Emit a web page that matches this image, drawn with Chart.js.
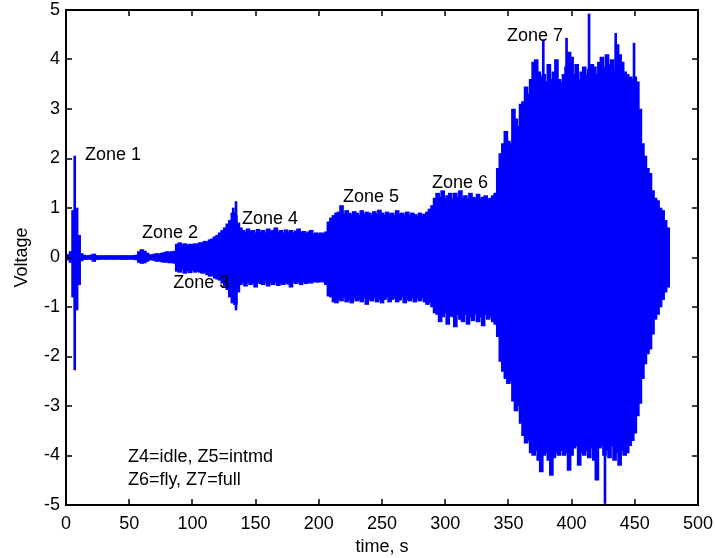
<!DOCTYPE html>
<html>
<head>
<meta charset="utf-8">
<title>Voltage vs time</title>
<script src="https://cdn.jsdelivr.net/npm/chart.js@4.4.1/dist/chart.umd.min.js"></script>
<style>
  html, body { margin: 0; padding: 0; background: #fff; }
  canvas { display: block; }
</style>
</head>
<body>
<canvas id="chart" width="715" height="558"></canvas>
<script>
// sample times (s), one envelope sample every 2 s
const timeS = [
  0, 2, 4, 6, 8, 10, 12, 14, 16, 18,
  20, 22, 24, 26, 28, 30, 32, 34, 36, 38,
  40, 42, 44, 46, 48, 50, 52, 54, 56, 58,
  60, 62, 64, 66, 68, 70, 72, 74, 76, 78,
  80, 82, 84, 86, 88, 90, 92, 94, 96, 98,
  100, 102, 104, 106, 108, 110, 112, 114, 116, 118,
  120, 122, 124, 126, 128, 130, 132, 134, 136, 138,
  140, 142, 144, 146, 148, 150, 152, 154, 156, 158,
  160, 162, 164, 166, 168, 170, 172, 174, 176, 178,
  180, 182, 184, 186, 188, 190, 192, 194, 196, 198,
  200, 202, 204, 206, 208, 210, 212, 214, 216, 218,
  220, 222, 224, 226, 228, 230, 232, 234, 236, 238,
  240, 242, 244, 246, 248, 250, 252, 254, 256, 258,
  260, 262, 264, 266, 268, 270, 272, 274, 276, 278,
  280, 282, 284, 286, 288, 290, 292, 294, 296, 298,
  300, 302, 304, 306, 308, 310, 312, 314, 316, 318,
  320, 322, 324, 326, 328, 330, 332, 334, 336, 338,
  340, 342, 344, 346, 348, 350, 352, 354, 356, 358,
  360, 362, 364, 366, 368, 370, 372, 374, 376, 378,
  380, 382, 384, 386, 388, 390, 392, 394, 396, 398,
  400, 402, 404, 406, 408, 410, 412, 414, 416, 418,
  420, 422, 424, 426, 428, 430, 432, 434, 436, 438,
  440, 442, 444, 446, 448, 450, 452, 454, 456, 458,
  460, 462, 464, 466, 468, 470, 472, 474, 476
];

// upper edge of the signal (V)
const upperV = [
  0.05, 0.06, 0.12, 0.95, 1.0, 0.45, 0.08, 0.05, 0.04, 0.04,
  0.05, 0.07, 0.04, 0.035, 0.04, 0.035, 0.04, 0.035, 0.04, 0.035,
  0.04, 0.035, 0.04, 0.035, 0.04, 0.035, 0.04, 0.04, 0.05, 0.12,
  0.16, 0.13, 0.09, 0.06, 0.05, 0.07, 0.08, 0.07, 0.09, 0.1,
  0.12, 0.11, 0.12, 0.13, 0.27, 0.3, 0.26, 0.28, 0.25, 0.27,
  0.26, 0.28, 0.27, 0.3, 0.3, 0.33, 0.32, 0.36, 0.38, 0.42,
  0.45, 0.5, 0.55, 0.6, 0.68, 0.75, 0.9, 0.85, 0.7, 0.6,
  0.55, 0.52, 0.58, 0.53, 0.55, 0.5, 0.57, 0.52, 0.55, 0.5,
  0.58, 0.53, 0.55, 0.6, 0.52, 0.55, 0.5, 0.56, 0.52, 0.55,
  0.5, 0.54, 0.58, 0.5, 0.53, 0.49, 0.52, 0.55, 0.48, 0.5,
  0.47, 0.5, 0.48, 0.52, 0.72, 0.8, 0.85, 0.9, 0.92, 1.05,
  0.88, 0.95, 0.9, 0.87, 0.93, 0.9, 0.86, 0.95, 0.88, 0.92,
  0.9, 0.85, 0.93, 0.88, 0.96, 0.9, 0.86, 0.92, 0.88, 0.9,
  0.85, 0.95, 0.88, 0.9, 0.86, 0.92, 0.85, 0.9, 0.87, 0.84,
  0.9, 0.86, 0.88, 0.92, 0.98, 1.05, 1.2, 1.3, 1.22, 1.35,
  1.2, 1.25, 1.3, 1.18, 1.3, 1.22, 1.35, 1.2, 1.25, 1.18,
  1.3, 1.22, 1.2, 1.28, 1.2, 1.22, 1.25, 1.18, 1.2, 1.25,
  1.3, 1.8, 2.1, 2.3, 2.55, 2.35, 2.3, 3.0, 2.8, 2.65,
  3.1, 3.15, 3.45, 3.3, 3.6, 3.95, 4.0, 3.75, 3.65, 3.7,
  3.55, 3.9, 3.6, 3.75, 4.0, 3.6, 3.55, 3.7, 3.85, 4.15,
  4.05, 3.7, 3.9, 3.6, 3.75, 3.85, 3.7, 3.8, 3.9, 3.85,
  3.7, 3.95, 4.05, 3.85, 4.1, 3.9, 4.0, 3.8, 4.3, 4.1,
  3.95, 3.75, 3.7, 3.65, 3.6, 3.65, 3.55, 3.0, 2.3, 2.05,
  1.8, 1.7, 1.35, 1.2, 1.15, 1.0, 0.95, 0.75, 0.6
];

// lower edge of the signal (V)
const lowerV = [
  -0.05, -0.05, -0.1, -0.8, -1.06, -0.55, -0.07, -0.04, -0.04, -0.035,
  -0.04, -0.08, -0.04, -0.04, -0.035, -0.035, -0.04, -0.035, -0.035, -0.04,
  -0.035, -0.035, -0.04, -0.035, -0.04, -0.035, -0.04, -0.035, -0.05, -0.1,
  -0.12, -0.11, -0.08, -0.05, -0.05, -0.06, -0.08, -0.07, -0.09, -0.1,
  -0.09, -0.11, -0.1, -0.12, -0.28, -0.3, -0.25, -0.32, -0.27, -0.31,
  -0.26, -0.3, -0.28, -0.3, -0.32, -0.3, -0.35, -0.38, -0.36, -0.42,
  -0.44, -0.46, -0.52, -0.58, -0.65, -0.8, -0.92, -0.95, -0.7, -0.55,
  -0.5, -0.58, -0.5, -0.55, -0.52, -0.6, -0.5, -0.53, -0.55, -0.5,
  -0.58, -0.52, -0.55, -0.5, -0.57, -0.52, -0.55, -0.5, -0.54, -0.6,
  -0.5, -0.53, -0.5, -0.55, -0.5, -0.53, -0.5, -0.52, -0.48, -0.5,
  -0.5, -0.48, -0.5, -0.55, -0.78, -0.8, -0.9, -0.92, -0.85, -0.88,
  -0.8, -0.9, -0.85, -0.92, -0.82, -0.88, -0.85, -0.9, -0.82, -0.95,
  -0.85, -0.88, -0.82, -0.9, -0.85, -0.92, -0.85, -0.8, -0.9, -0.85,
  -0.82, -0.9, -0.86, -0.8, -0.92, -0.85, -0.88, -0.82, -0.9, -0.85,
  -0.88, -0.82, -0.9, -0.95, -0.9, -1.0, -1.12, -1.15, -1.3, -1.2,
  -1.12, -1.35, -1.18, -1.2, -1.4, -1.15, -1.25, -1.3, -1.15, -1.35,
  -1.2, -1.28, -1.15, -1.3, -1.2, -1.38, -1.15, -1.25, -1.2, -1.3,
  -1.35, -1.6, -2.1, -2.3, -2.45, -2.55, -2.5, -2.9, -3.1, -3.0,
  -3.35, -3.6, -3.75, -3.7, -3.95, -4.0, -3.9, -4.1, -4.33, -4.0,
  -3.95, -4.1, -4.4, -4.05, -3.95, -4.0, -3.9, -4.0, -3.95, -4.3,
  -4.0, -3.85, -3.8, -4.2, -3.95, -4.0, -3.9, -4.05, -3.85, -4.1,
  -4.5, -3.85, -3.8, -4.0, -3.9, -4.05, -3.8, -4.1, -3.95, -4.2,
  -3.9, -4.0, -3.95, -3.8, -3.7, -3.55, -3.2, -2.95, -2.45, -2.15,
  -1.95, -1.85, -1.55, -1.25, -1.15, -1.0, -0.85, -0.7, -0.6
];

// isolated narrow spikes
const spikeT = [6.9, 132.3, 134.5, 377.6, 396.0, 413.8, 426.4, 434.9, 449.4];
const spikeHi = [2.05, 1.0, 1.13, 4.4, 4.43, 4.92, 0, 4.53, 4.33];
const spikeLo = [-2.27, -0.9, -1.06, 0, 0, 0, -4.97, 0, 0];

// tick values
const xTicks = [0, 50, 100, 150, 200, 250, 300, 350, 400, 450, 500];
const yTicks = [-5, -4, -3, -2, -1, 0, 1, 2, 3, 4, 5];

// text annotations in data coordinates
const noteText = ['Zone 1', 'Zone 2', 'Zone 3', 'Zone 4', 'Zone 5', 'Zone 6', 'Zone 7',
  'Z4=idle, Z5=intmd', 'Z6=fly, Z7=full'];
const noteT = [15, 60.1, 84.9, 139.2, 219.1, 289.6, 348.9, 49, 49];
const noteV = [2.07, 0.49, -0.52, 0.78, 1.22, 1.5, 4.48, -4.03, -4.5];

const fontFamily = '"Liberation Sans", Arial, Helvetica, sans-serif';
Chart.defaults.font.family = fontFamily;
Chart.defaults.font.size = 18;
Chart.defaults.color = '#000';

const signalData = timeS.map((t, i) => ({ x: t, y: [lowerV[i], upperV[i]] }));
const spikeData = spikeT.map((t, i) => ({ x: t, y: [spikeLo[i], spikeHi[i]] }));

// no extra room for label overflow, layout padding decides the plot box
function noOverflow(s) {
  s.paddingTop = 0;
  s.paddingBottom = 0;
  s.paddingLeft = 0;
  s.paddingRight = 0;
}

// matlab style box with inward ticks + text labels
const frame = {
  id: 'frame',
  afterDatasetsDraw(chart) {
    const { ctx, chartArea: a, scales: { x, y } } = chart;
    ctx.save();
    ctx.strokeStyle = '#000';
    ctx.lineWidth = 1.5;
    ctx.beginPath();
    xTicks.forEach(v => {
      const px = Math.round(x.getPixelForValue(v));
      ctx.moveTo(px, a.bottom); ctx.lineTo(px, a.bottom - 6);
      ctx.moveTo(px, a.top); ctx.lineTo(px, a.top + 6);
    });
    yTicks.forEach(v => {
      const py = Math.round(y.getPixelForValue(v));
      ctx.moveTo(a.left, py); ctx.lineTo(a.left + 6, py);
      ctx.moveTo(a.right, py); ctx.lineTo(a.right - 6, py);
    });
    ctx.stroke();
    ctx.lineWidth = 2;
    ctx.strokeRect(a.left, a.top, a.right - a.left, a.bottom - a.top);

    ctx.fillStyle = '#000';
    ctx.font = '18px ' + fontFamily;
    ctx.textAlign = 'left';
    ctx.textBaseline = 'middle';
    noteText.forEach((s, i) => {
      ctx.fillText(s, x.getPixelForValue(noteT[i]), y.getPixelForValue(noteV[i]));
    });
    ctx.restore();
  }
};

new Chart(document.getElementById('chart'), {
  type: 'bar',
  data: {
    datasets: [
      {
        data: signalData,
        backgroundColor: '#0000ff',
        borderWidth: 0,
        barThickness: 4
      },
      {
        data: spikeData,
        backgroundColor: '#0000ff',
        borderWidth: 0,
        barThickness: 2
      }
    ]
  },
  options: {
    responsive: false,
    animation: false,
    events: [],
    grouped: false,
    layout: { padding: { top: 10, right: 17, left: 0, bottom: 0 } },
    plugins: {
      legend: { display: false },
      tooltip: { enabled: false }
    },
    scales: {
      x: {
        type: 'linear',
        min: 0,
        max: 500,
        offset: false,
        grid: { display: false, drawTicks: false },
        border: { display: false },
        afterBuildTicks: s => { s.ticks = xTicks.map(v => ({ value: v })); },
        ticks: { autoSkip: false, maxRotation: 0, padding: 8 },
        title: { display: true, text: 'time, s', padding: { top: 0, bottom: 0 } },
        afterFit: s => { s.height = 53; noOverflow(s); }
      },
      y: {
        min: -5,
        max: 5,
        grid: { display: false, drawTicks: false },
        border: { display: false },
        afterBuildTicks: s => { s.ticks = yTicks.map(v => ({ value: v })); },
        ticks: { autoSkip: false, padding: 6 },
        title: { display: true, text: 'Voltage', padding: { top: 11, bottom: 0 } },
        afterFit: s => { s.width = 66; noOverflow(s); }
      }
    }
  },
  plugins: [frame]
});
</script>
</body>
</html>
